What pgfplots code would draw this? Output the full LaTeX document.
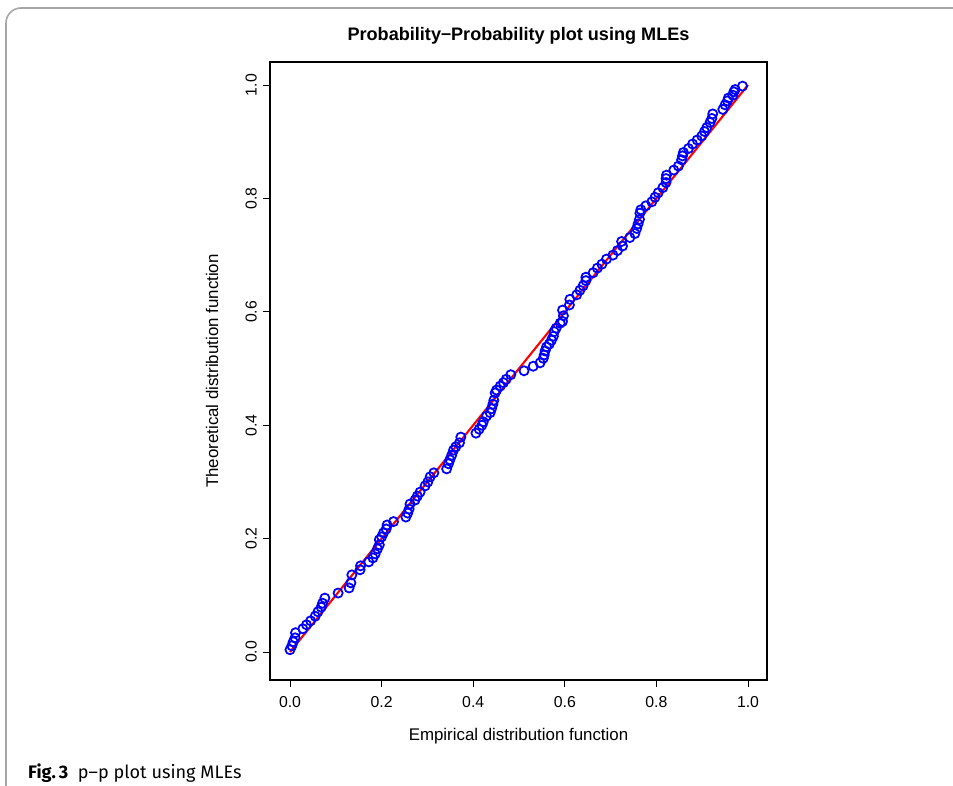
\documentclass[border=0pt]{standalone}
\usepackage{pgfplots}
\pgfplotsset{compat=1.18}
\usepackage{fontspec}
\setmainfont{Liberation Sans}
\newfontfamily\capfont[Ligatures=TeX]{Fira Sans}

% P-P plot points (empirical, theoretical)
\pgfplotstableread{
x y
0.000 0.004
0.004 0.011
0.007 0.018
0.011 0.025
0.012 0.034
0.028 0.041
0.036 0.048
0.045 0.055
0.055 0.063
0.061 0.071
0.068 0.079
0.071 0.086
0.076 0.095
0.105 0.104
0.129 0.113
0.133 0.122
0.135 0.136
0.153 0.145
0.154 0.152
0.172 0.159
0.181 0.166
0.186 0.173
0.191 0.182
0.195 0.189
0.195 0.198
0.200 0.203
0.204 0.210
0.210 0.217
0.212 0.224
0.226 0.230
0.253 0.238
0.257 0.245
0.260 0.252
0.262 0.261
0.273 0.268
0.278 0.275
0.284 0.282
0.295 0.293
0.301 0.300
0.306 0.309
0.314 0.316
0.342 0.323
0.346 0.332
0.349 0.339
0.353 0.347
0.357 0.356
0.362 0.362
0.370 0.369
0.373 0.379
0.406 0.386
0.413 0.393
0.419 0.400
0.422 0.406
0.429 0.416
0.437 0.422
0.440 0.429
0.443 0.437
0.445 0.444
0.448 0.457
0.451 0.462
0.459 0.469
0.466 0.475
0.472 0.481
0.482 0.489
0.511 0.496
0.531 0.504
0.546 0.510
0.553 0.518
0.555 0.524
0.557 0.531
0.560 0.538
0.566 0.543
0.571 0.550
0.575 0.557
0.577 0.565
0.581 0.571
0.590 0.580
0.595 0.583
0.597 0.593
0.595 0.603
0.610 0.612
0.611 0.622
0.626 0.630
0.633 0.638
0.640 0.646
0.646 0.655
0.646 0.661
0.662 0.669
0.671 0.677
0.681 0.684
0.691 0.693
0.705 0.700
0.715 0.708
0.726 0.716
0.724 0.724
0.742 0.731
0.753 0.738
0.757 0.747
0.760 0.755
0.763 0.763
0.764 0.774
0.766 0.780
0.777 0.787
0.790 0.794
0.797 0.802
0.804 0.810
0.814 0.819
0.821 0.828
0.821 0.835
0.822 0.841
0.838 0.850
0.848 0.857
0.855 0.868
0.857 0.875
0.859 0.881
0.870 0.888
0.879 0.896
0.889 0.903
0.899 0.910
0.905 0.918
0.910 0.925
0.917 0.934
0.921 0.941
0.923 0.949
0.945 0.957
0.950 0.965
0.955 0.972
0.957 0.977
0.967 0.982
0.969 0.988
0.972 0.992
0.988 0.998
}\pppoints

\begin{document}
\begin{tikzpicture}
\useasboundingbox (0,0) rectangle (19.06cm,15.7cm);
% figure frame
\draw[gray!70, line width=0.9pt, rounded corners=0.3cm]
  (0.12cm,-0.2cm) -- (0.12cm,15.54cm) -- (19.4cm,15.54cm);
\begin{axis}[
    at={(5.4cm,2.1cm)}, anchor=south west,
    scale only axis,
    width=9.94cm, height=12.36cm,
    xmin=-0.0437, xmax=1.0415,
    ymin=-0.0494, ymax=1.0406,
    xtick={0,0.2,0.4,0.6,0.8,1},
    ytick={0,0.2,0.4,0.6,0.8,1},
    tick align=outside,
    major tick length=4pt,
    tick style={black, line width=0.5pt},
    axis line style={black, line width=0.6pt},
    xtick pos=bottom, ytick pos=left,
    /pgf/number format/.cd, fixed, fixed zerofill, precision=1, assume math mode=true,
    /pgfplots/.cd,
    ticklabel style={font=\fontsize{9}{10}\selectfont},
    yticklabel style={rotate=90, anchor=south},
    xticklabel style={anchor=north, yshift=-2pt},
    title={\bfseries Probability\raisebox{0.1ex}{--}Probability plot using MLEs},
    title style={font=\fontsize{10.3}{12}\selectfont, at={(axis description cs:0.5,1.026)}, anchor=center},
    xlabel={Empirical distribution function},
    ylabel={Theoretical distribution function},
    label style={font=\fontsize{9.6}{11}\selectfont},
    xlabel style={at={(axis description cs:0.5,-0.0906)}, anchor=center},
    ylabel style={at={(axis description cs:-0.1167,0.5)}, anchor=center, rotate=0},
]
\addplot[red, line width=1.2pt] coordinates {(0,0) (1,1)};
\addplot[only marks, mark=o, mark size=2.6pt, blue, mark options={line width=1pt}] table {\pppoints};
\end{axis}
\node[anchor=base west, font=\capfont\fontsize{10.3}{12}\selectfont] at (0.44cm,0.14cm)
  {\textbf{Fig.\,3}\ \ p–p plot using MLEs};
\end{tikzpicture}
\end{document}
